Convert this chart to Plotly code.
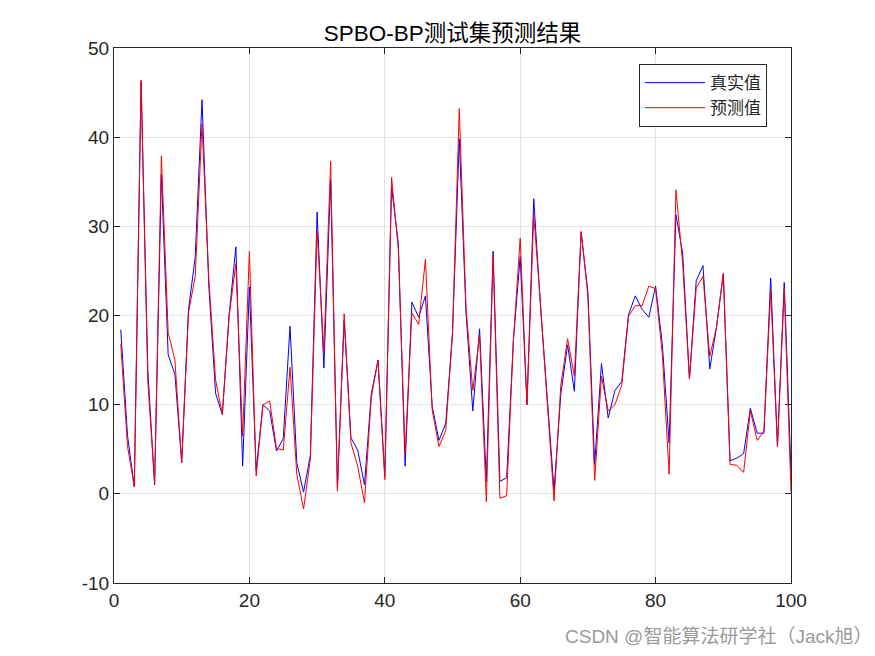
import plotly.graph_objects as go

x_idx = list(range(1, 101))

true_vals = [
    18.4, 6.5, 0.8, 46.2, 13.8, 1.0, 35.8, 15.6, 13.4, 3.5,
    20.6, 26.6, 44.2, 23.4, 11.3, 8.9, 20.0, 27.7, 3.1, 23.2,
    2.6, 10.0, 9.3, 4.8, 6.2, 18.8, 3.5, 0.2, 4.3, 31.6,
    14.1, 35.2, 0.8, 19.5, 6.3, 4.9, 1.0, 11.2, 15.0, 2.0,
    34.4, 28.1, 3.1, 21.5, 19.8, 22.2, 9.8, 6.0, 7.9, 18.0,
    39.8, 20.3, 9.3, 18.5, 1.4, 27.2, 1.4, 1.8, 17.3, 26.6,
    10.0, 33.1, 21.0, 10.5, 0.4, 11.2, 16.7, 11.5, 29.4, 22.6,
    3.3, 14.6, 8.5, 11.6, 12.6, 20.1, 22.2, 20.7, 19.8, 23.3,
    16.7, 5.7, 31.3, 27.0, 12.9, 23.9, 25.6, 14.0, 18.7, 24.7,
    3.7, 4.0, 4.5, 9.6, 6.8, 6.8, 24.2, 5.3, 23.7, 2.4,
]

pred_vals = [
    16.8, 5.3, 0.8, 46.4, 12.5, 1.2, 37.9, 18.1, 15.0, 3.5,
    20.3, 24.4, 41.5, 24.2, 12.8, 8.9, 19.9, 25.8, 6.5, 27.2,
    2.0, 10.0, 10.4, 5.1, 4.9, 14.2, 2.2, -1.7, 3.9, 29.5,
    16.0, 37.3, 0.3, 20.2, 5.7, 3.1, -1.0, 10.8, 15.0, 1.6,
    35.5, 27.4, 4.5, 20.3, 19.0, 26.3, 9.4, 5.3, 7.1, 18.0,
    43.2, 20.8, 11.6, 17.7, -0.9, 26.8, -0.5, -0.2, 17.3, 28.7,
    10.0, 31.3, 21.3, 10.5, -0.8, 12.2, 17.4, 13.2, 29.4, 22.2,
    1.5, 13.2, 9.3, 10.0, 12.2, 19.9, 21.1, 21.1, 23.3, 23.0,
    15.6, 2.2, 34.1, 25.8, 12.9, 23.1, 24.4, 15.4, 18.7, 24.7,
    3.3, 3.2, 2.4, 9.3, 6.0, 7.0, 22.8, 5.3, 23.0, 0.2,
]

x_ticks = [0, 20, 40, 60, 80, 100]
x_ticktext = ["0", "20", "40", "60", "80", "100"]
y_ticks = [-10, 0, 10, 20, 30, 40, 50]
y_ticktext = ["-10", "0", "10", "20", "30", "40", "50"]

FONT = "Liberation Sans, Arial, Noto Sans CJK SC, sans-serif"

fig = go.Figure()
fig.add_trace(go.Scatter(x=x_idx, y=true_vals, mode="lines", name="真实值",
                         line=dict(color="#0000ff", width=1)))
fig.add_trace(go.Scatter(x=x_idx, y=pred_vals, mode="lines", name="预测值",
                         line=dict(color="#ff0000", width=1)))

axis_common = dict(
    showline=True, linecolor="#262626", linewidth=1, mirror="ticks",
    ticks="inside", ticklen=6, tickcolor="#262626",
    showgrid=True, gridcolor="#e3e3e3", gridwidth=1,
    zeroline=False, tickfont=dict(size=19, color="#262626", family=FONT),
)

fig.update_layout(
    width=875, height=656,
    margin=dict(l=106, r=92, t=40, b=81),
    paper_bgcolor="white", plot_bgcolor="white",
    title=dict(text="SPBO-BP测试集预测结果", xref="paper", x=0.5, xanchor="center",
               y=1 - 25 / 656, yanchor="middle",
               font=dict(size=22.5, color="black", family=FONT)),
    xaxis=dict(range=[0, 100], tickvals=x_ticks, ticktext=x_ticktext, **axis_common),
    yaxis=dict(range=[-10, 50], tickvals=y_ticks, ticktext=y_ticktext, **axis_common),
    showlegend=True,
    legend=dict(x=0.7755, y=0.970, xanchor="left", yanchor="top",
                bgcolor="white", bordercolor="#262626", borderwidth=1,
                font=dict(size=17, color="#262626", family="Noto Sans CJK SC, sans-serif"),
                itemwidth=60, tracegroupgap=0),
    annotations=[dict(text="CSDN @智能算法研学社（Jack旭）", xref="paper", yref="paper",
                      x=1.0 + 83 / 677, y=-(636 - 583) / 535, xanchor="right", yanchor="middle",
                      showarrow=False,
                      font=dict(size=19, color="#9a9a9a", family=FONT))],
)

fig.write_html("out.html")
